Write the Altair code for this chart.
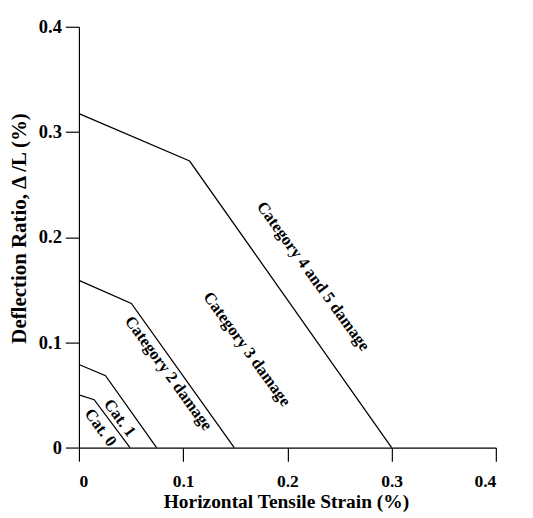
import altair as alt
import pandas as pd

# Boundary lines (x = horizontal tensile strain %, y = deflection ratio %)
line_ids = ["cat01", "cat01", "cat01",
            "cat12", "cat12", "cat12",
            "cat23", "cat23", "cat23",
            "cat34", "cat34", "cat34"]
line_order = [0, 1, 2, 0, 1, 2, 0, 1, 2, 0, 1, 2]
line_x = [0.0, 0.0146, 0.049,
          0.0, 0.0255, 0.0745,
          0.0, 0.0503, 0.149,
          0.0, 0.1062, 0.300]
line_y = [0.050, 0.0455, 0.0,
          0.079, 0.0683, 0.0,
          0.159, 0.137, 0.0,
          0.3175, 0.2724, 0.0]

label_text = ["Category 4 and 5 damage", "Category 3 damage",
              "Category 2 damage", "Cat. 1", "Cat. 0"]
label_x = [0.2246, 0.161, 0.0858, 0.039, 0.0205]
label_y = [0.1628, 0.0935, 0.0705, 0.028, 0.0188]

tick_values = [0, 0.1, 0.2, 0.3, 0.4]

lines_df = pd.DataFrame({"id": line_ids, "order": line_order, "x": line_x, "y": line_y})
labels_df = pd.DataFrame({"text": label_text, "x": label_x, "y": label_y})

FONT = "Liberation Serif"

xscale = alt.Scale(domain=[0, 0.4], nice=False, zero=False)
yscale = alt.Scale(domain=[0, 0.4], nice=False, zero=False)

lab_expr = "datum.value == 0 ? '0' : format(datum.value, '.1f')"

xaxis = alt.Axis(values=tick_values, labelExpr=lab_expr, grid=False,
                 title="Horizontal Tensile Strain (%)",
                 tickSize=14, labelPadding=12, labelFontSize=18,
                 titleX=213, titleY=62, titleAlign="center", titleBaseline="alphabetic")
yaxis = alt.Axis(values=tick_values, labelExpr=lab_expr, grid=False,
                 title="Deflection Ratio, \u0394 /L (%)",
                 tickSize=14, labelPadding=4, titleFontSize=21.5,
                 titleX=-61, titleY=207, titleAngle=-90,
                 titleAlign="center", titleBaseline="middle")

lines = alt.Chart(lines_df).mark_line(color="black", strokeWidth=1.3).encode(
    x=alt.X("x:Q", scale=xscale, axis=xaxis),
    y=alt.Y("y:Q", scale=yscale, axis=yaxis),
    detail="id:N",
    order="order:Q",
)

labels = alt.Chart(labels_df).mark_text(
    font=FONT, fontWeight="bold", fontSize=17, angle=54,
    align="center", baseline="middle", color="black",
).encode(
    x=alt.X("x:Q", scale=xscale),
    y=alt.Y("y:Q", scale=yscale),
    text="text:N",
)

chart = (lines + labels).properties(
    width=429, height=433,
    autosize=alt.AutoSizeParams(type="none"),
    padding={"left": 73, "top": 12, "right": 30, "bottom": 60},
).configure_view(stroke=None).configure_axis(
    domainColor="black", domainWidth=1.2, tickColor="black", tickWidth=1.2,
    labelFont=FONT, labelFontWeight="bold", labelFontSize=19, labelColor="black",
    titleFont=FONT, titleFontWeight="bold", titleFontSize=20, titleColor="black",
)

chart.save("out.html", embed_options={"renderer": "svg", "actions": False})
